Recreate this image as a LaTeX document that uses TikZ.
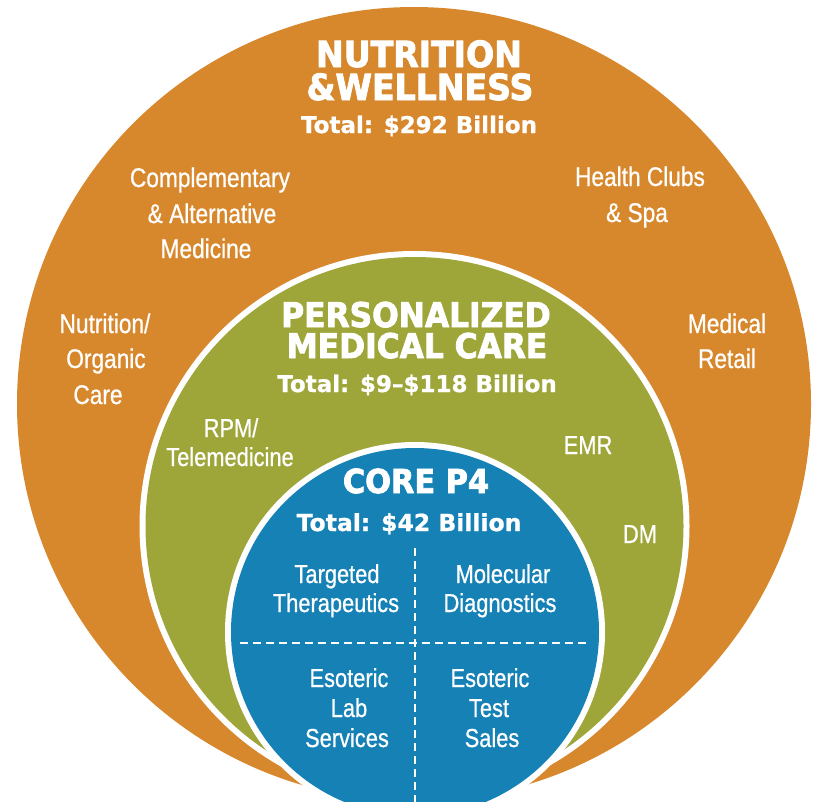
\documentclass[tikz,border=0pt]{standalone}
\usepackage{fontspec}
\setmainfont{Liberation Sans}
\newfontfamily\headfont[FakeStretch=0.92,FakeBold=2.4]{DejaVu Sans}
\newfontfamily\totfont[FakeBold=1.0]{DejaVu Sans}
\newfontfamily\labfont[FakeStretch=0.84,FakeBold=0.7]{Liberation Sans}
\definecolor{orng}{RGB}{216,136,44}
\definecolor{olive}{RGB}{158,166,58}
\definecolor{core}{RGB}{21,129,181}
\tikzset{
  txt/.style={text=white, anchor=base, inner sep=0pt},
  head/.style={txt, font=\headfont\bfseries\fontsize{#1}{#1}\selectfont},
  tot/.style={txt, font=\totfont\bfseries\fontsize{#1}{#1}\selectfont},
  lab/.style={txt, font=\labfont\fontsize{#1}{#1}\selectfont},
  divider/.style={white, line width=2pt, dash pattern=on 8pt off 5pt}
}
\begin{document}
\begin{tikzpicture}[x=1pt,y=-1pt]
\useasboundingbox (0,0) rectangle (816,801);
\clip (0,0) rectangle (816,801);
% circles
\fill[orng] (414,404) circle (397);
\fill[white] (414.5,526) circle (275);
\fill[olive] (414.5,526) circle (269);
\fill[white] (415,632) circle (190);
\fill[core] (415,632) circle (184);
% dividers
\coordinate (vt) at (415,548);
\coordinate (vb) at (415,805);
\coordinate (hl) at (240,643);
\coordinate (hr) at (590,643);
\draw[divider] (vt) -- (vb);
\draw[divider] (hl) -- (hr);
% outer heading
\node[head=36] (nw1) at (419,67) {NUTRITION};
\node[head=36] (nw2) at (420,100) {\&WELLNESS};
\node[tot=23] (nw3) at (419,133) {Total: \$292 Billion};
% outer labels
\node[lab=27] (ca1) at (210,187) {Complementary};
\node[lab=27] (ca2) at (212,223) {\& Alternative};
\node[lab=27] (ca3) at (206,258) {Medicine};
\node[lab=27] (hc1) at (640,186) {Health Clubs};
\node[lab=27] (hc2) at (637,222) {\& Spa};
\node[lab=27] (no1) at (105,333) {Nutrition/};
\node[lab=27] (no2) at (106,368) {Organic};
\node[lab=27] (no3) at (98,404) {Care};
\node[lab=27] (mr1) at (727,333) {Medical};
\node[lab=27] (mr2) at (727,368) {Retail};
% middle heading
\node[head=34] (pm1) at (416,327) {PERSONALIZED};
\node[head=34] (pm2) at (417,358) {MEDICAL CARE};
\node[tot=23] (pm3) at (417,392) {Total: \$9–\$118 Billion};
% middle labels
\node[lab=26] (rp1) at (231,437) {RPM/};
\node[lab=26] (rp2) at (230,466) {Telemedicine};
\node[lab=26] (emr) at (588,454) {EMR};
\node[lab=26] (dm) at (640,543) {DM};
% core
\node[head=33] (cp1) at (416,493) {CORE P4};
\node[tot=23.5] (cp2) at (409,531) {Total: \$42 Billion};
\node[lab=26] (tt1) at (337,583) {Targeted};
\node[lab=26] (tt2) at (336,612) {Therapeutics};
\node[lab=26] (md1) at (503,583) {Molecular};
\node[lab=26] (md2) at (500,612) {Diagnostics};
\node[lab=26] (el1) at (349,687) {Esoteric};
\node[lab=26] (el2) at (349,717) {Lab};
\node[lab=26] (el3) at (347,747) {Services};
\node[lab=26] (et1) at (490,687) {Esoteric};
\node[lab=26] (et2) at (489,717) {Test};
\node[lab=26] (et3) at (492,747) {Sales};
\end{tikzpicture}
\end{document}
